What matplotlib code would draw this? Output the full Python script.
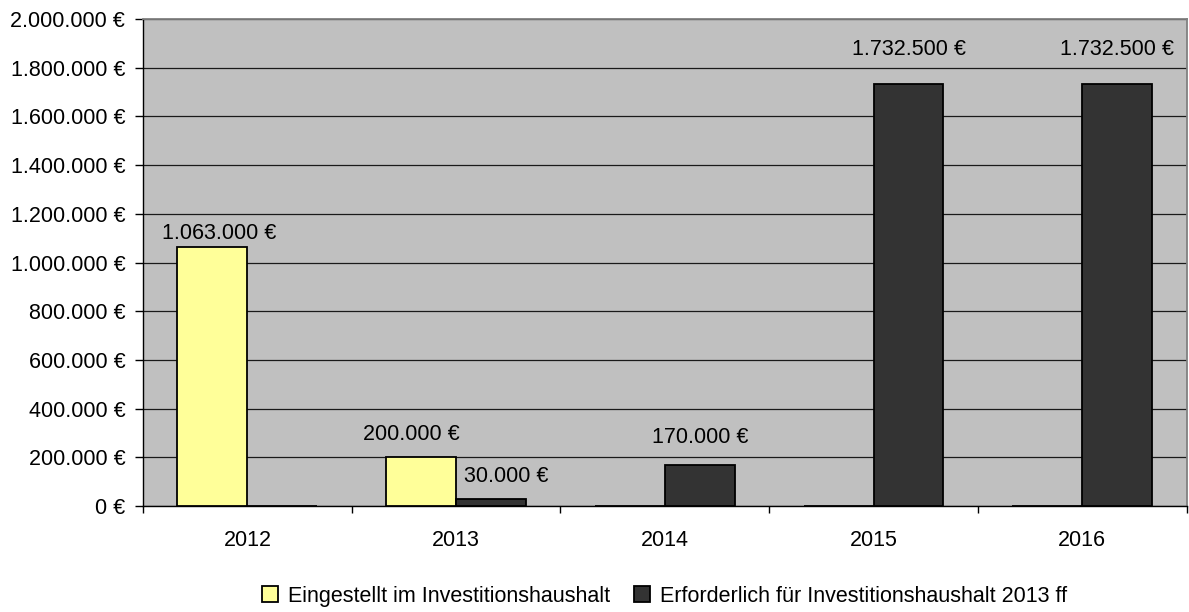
import numpy as np
import matplotlib.pyplot as plt
from matplotlib.ticker import FuncFormatter

plt.rcParams['font.family'] = ['Liberation Sans', 'DejaVu Sans']

years = ["2012", "2013", "2014", "2015", "2016"]
eingestellt = [1063000, 200000, 0, 0, 0]
erforderlich = [0, 30000, 170000, 1732500, 1732500]
labels = ["Eingestellt im Investitionshaushalt",
          "Erforderlich für Investitionshaushalt 2013 ff"]

# label nudges in pixels (dx, dy) as placed in the original
nudge_ein = [(7, 14), (-10, 23), (0, 0), (0, 0), (0, 0)]
nudge_erf = [(0, 0), (15, 22), (0, 27), (0, 35), (0, 35)]


def euro(v, pos=None):
    return f"{int(v):,} €".replace(",", ".")


fig = plt.figure(figsize=(11.89, 6.12), dpi=100)
ax = fig.add_axes([0.1203, 0.173, 0.8777, 0.796])
ax.set_facecolor("#C0C0C0")

x = np.arange(len(years))
w = 0.335
fs = 15.5

b1 = ax.bar(x - w / 2, eingestellt, w, color="#FFFF99", edgecolor="black",
            linewidth=1.3, label=labels[0], zorder=3)
b2 = ax.bar(x + w / 2, erforderlich, w, color="#333333", edgecolor="black",
            linewidth=1.3, label=labels[1], zorder=3)

px = 0.72  # points per pixel at dpi 100
for bars, vals, nudge in ((b1, eingestellt, nudge_ein), (b2, erforderlich, nudge_erf)):
    for b, v, (dx, dy) in zip(bars, vals, nudge):
        if v == 0:
            continue
        ax.annotate(euro(v), (b.get_x() + b.get_width() / 2, v),
                    xytext=(dx * px, dy * px), textcoords="offset points",
                    ha="center", va="center", fontsize=fs, color="black",
                    zorder=4)

ax.set_ylim(0, 2000000)
ax.set_yticks(np.arange(0, 2000001, 200000))
ax.yaxis.set_major_formatter(FuncFormatter(euro))
ax.set_xlim(-0.5, len(years) - 0.5)
ax.set_xticks(x)
ax.set_xticklabels(years)
ax.set_xticks(np.arange(-0.5, len(years), 1), minor=True)
ax.tick_params(axis="x", which="major", length=0, pad=17, labelsize=fs)
ax.tick_params(axis="x", which="minor", length=5, width=1, direction="out")
ax.tick_params(axis="y", length=5.8, width=1, direction="out", labelsize=fs, pad=7)

ax.yaxis.grid(True, color="#1a1a1a", linewidth=0.9, zorder=1)
ax.set_axisbelow(True)

for s in ("top", "right"):
    ax.spines[s].set_color("#808080")
    ax.spines[s].set_linewidth(1.3)
for s in ("left", "bottom"):
    ax.spines[s].set_color("black")
    ax.spines[s].set_linewidth(1)

fig.legend(handles=[b1, b2], labels=labels, loc="center",
           bbox_to_anchor=(0.559, 0.026), ncol=2, frameon=False, fontsize=fs,
           handlelength=0.75, handleheight=0.75, handletextpad=0.45,
           columnspacing=1.1, borderpad=0)

fig.savefig("out.png", dpi=100)
